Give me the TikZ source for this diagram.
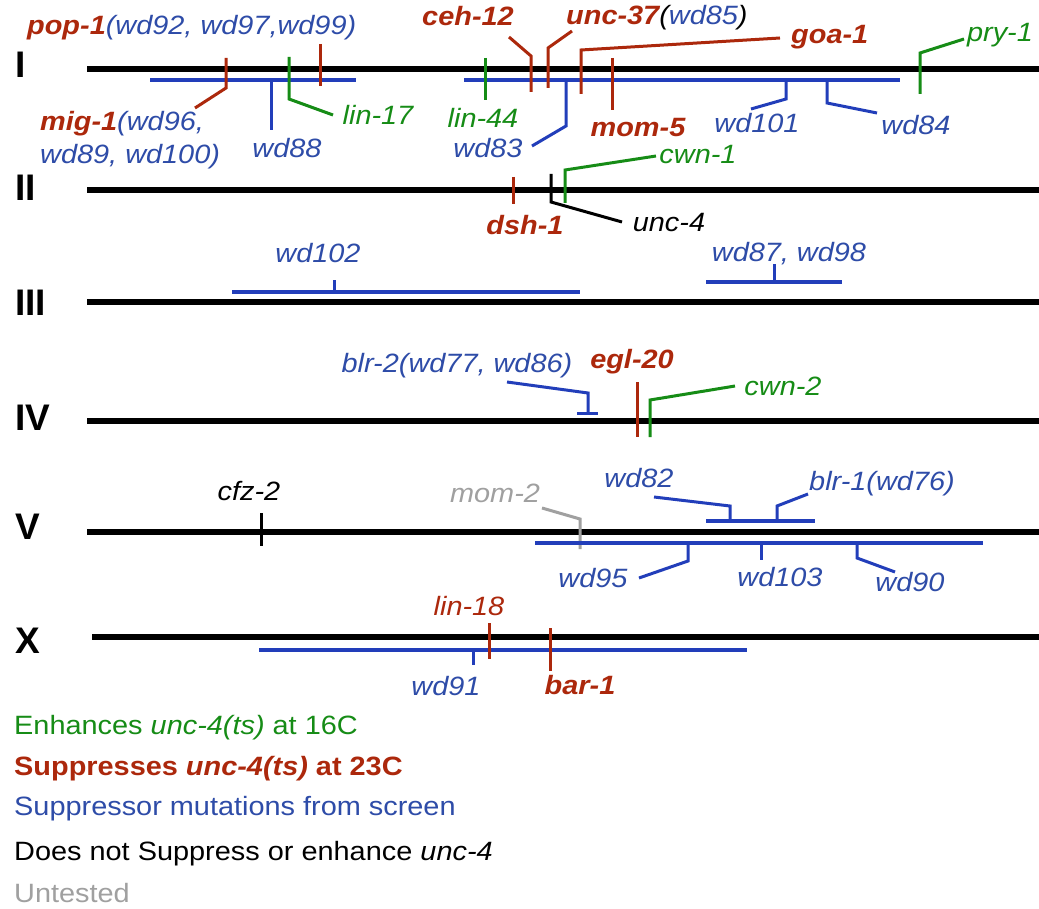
\documentclass[tikz,border=0pt]{standalone}
\usepackage{fontspec}
\setmainfont{Liberation Sans}[FakeStretch=1.09]
\newfontfamily\chromfont{Liberation Sans}
\definecolor{gred}{RGB}{172,40,12}
\definecolor{gblue}{RGB}{34,62,186}
\definecolor{gbluet}{RGB}{46,76,168}
\definecolor{ggreen}{RGB}{22,140,22}
\definecolor{ggray}{RGB}{160,160,160}
\tikzset{
  chrom/.style={line width=5.5pt, black},
  chrlbl/.style={font=\chromfont\fontsize{37}{40}\selectfont\bfseries, inner sep=0pt, anchor=west},
  seg/.style={line width=3.2pt, gblue},
  mark red/.style={line width=3pt, gred},
  mark blue/.style={line width=3pt, gblue},
  mark green/.style={line width=3pt, ggreen},
  mark black/.style={line width=3pt, black},
  mark gray/.style={line width=3pt, ggray},
  lbl/.style={font=\fontsize{26.5}{32}\selectfont\itshape, inner sep=0pt, anchor=base},
  lblw/.style={lbl, anchor=base west},
  rl/.style={lbl, text=gred, font=\fontsize{26.5}{32}\selectfont\bfseries\itshape},
  bl/.style={lbl, text=gbluet},
  gl/.style={lbl, text=ggreen},
  legend/.style={font=\fontsize{26.5}{32}\selectfont, inner sep=0pt, anchor=base west},
}
\begin{document}
\begin{tikzpicture}[x=1pt, y=-1pt, line join=miter]
\useasboundingbox[fill=white] (0,0) rectangle (1039,909);

% chromosome names and axes
\foreach \nm/\yy/\xl/\ly in {I/69/87/65, II/190/87/188, III/302/87/303, IV/421/87/418, V/532/87/527, X/637/92/641}{
  \node[chrlbl] (lab\nm) at (15,\ly) {\nm};
  \coordinate (L\nm) at (\xl,\yy);
  \coordinate (R\nm) at (1039,\yy);
  \draw[chrom] (L\nm) -- (R\nm);
}

% ---------- chromosome I ----------
\draw[seg] (150,80) -- (356,80);
\draw[seg] (464,80) -- (900,80);
\node[lblw] (pop1) at (27,35) {\textcolor{gred}{\bfseries pop-1}\textcolor{gbluet}{(wd92, wd97,wd99)}};
\draw[mark red] (320,44) -- (320,86);
\node[lblw] (mig1a) at (40,131) {\textcolor{gred}{\bfseries mig-1}\textcolor{gbluet}{(wd96,}};
\node[lblw, text=gbluet] (mig1b) at (40,164) {wd89, wd100)};
\draw[mark red] (226,58) -- (226,88) -- (195,108);
\node[bl] (wd88) at (287,158) {wd88};
\draw[mark blue] (271,80) -- (271,130);
\node[gl] (lin17) at (378,125) {lin-17};
\draw[mark green] (289,57) -- (289,99) -- (333,115);
\node[gl] (lin44) at (483,128) {lin-44};
\draw[mark green] (485,58) -- (485,100);
\node[rl] (ceh12) at (468,26) {ceh-12};
\draw[mark red] (509,37) -- (531,56) -- (531,92);
\node[lblw] (unc37) at (566,25) {\textcolor{gred}{\bfseries unc-37}(\textcolor{gbluet}{wd85})};
\draw[mark red] (572,31) -- (548,48) -- (548,88);
\node[rl, anchor=base west] (goa1) at (791,44) {goa-1};
\draw[mark red] (780,38) -- (581,50) -- (581,94);
\node[rl] (mom5) at (638,137) {mom-5};
\draw[mark red] (612,58) -- (612,110);
\node[bl] (wd83) at (488,158) {wd83};
\draw[mark blue] (566,80) -- (566,126) -- (532,146);
\node[bl] (wd101) at (757,133) {wd101};
\draw[mark blue] (786,80) -- (786,99) -- (751,109);
\node[bl] (wd84) at (916,135) {wd84};
\draw[mark blue] (827,80) -- (827,103) -- (877,113);
\node[gl] (pry1) at (1000,42) {pry-1};
\draw[mark green] (920,94) -- (920,53) -- (964,39);

% ---------- chromosome II ----------
\node[rl] (dsh1) at (525,235) {dsh-1};
\draw[mark red] (513,177) -- (513,204);
\node[lbl] (unc4) at (669,232) {unc-4};
\draw[mark black] (551,174) -- (551,202) -- (622,222);
\node[gl] (cwn1) at (698,164) {cwn-1};
\draw[mark green] (565,203) -- (565,170) -- (656,156);

% ---------- chromosome III ----------
\draw[seg] (232,292) -- (580,292);
\draw[mark blue] (334,292) -- (334,280);
\node[bl] (wd102) at (318,263) {wd102};
\draw[seg] (706,282) -- (842,282);
\draw[mark blue] (774,282) -- (774,264);
\node[bl] (wd87) at (789,262) {wd87, wd98};

% ---------- chromosome IV ----------
\node[bl] (blr2) at (457,372) {blr-2(wd77, wd86)};
\draw[mark blue] (507,382) -- (588,393) -- (588,413);
\draw[mark blue] (577,413) -- (598,413);
\node[rl] (egl20) at (632,368) {egl-20};
\draw[mark red] (637,382) -- (637,437);
\node[gl] (cwn2) at (783,395) {cwn-2};
\draw[mark green] (650,437) -- (650,400) -- (735,386);

% ---------- chromosome V ----------
\node[lbl] (cfz2) at (249,500) {cfz-2};
\draw[mark black] (261,513) -- (261,546);
\node[lbl, text=ggray] (mom2) at (495,502) {mom-2};
\draw[mark gray] (542,508) -- (580,519) -- (580,549);
\draw[seg] (706,521) -- (815,521);
\draw[seg] (535,543) -- (983,543);
\node[bl] (wd82) at (639,487) {wd82};
\draw[mark blue] (654,497) -- (730,506) -- (730,521);
\node[bl] (blr1) at (882,490) {blr-1(wd76)};
\draw[mark blue] (777,521) -- (777,506) -- (808,494);
\node[bl] (wd95) at (593,587) {wd95};
\draw[mark blue] (688,543) -- (688,561) -- (639,578);
\node[bl] (wd103) at (780,586) {wd103};
\draw[mark blue] (761,543) -- (761,560);
\node[bl] (wd90) at (910,591) {wd90};
\draw[mark blue] (857,543) -- (857,558) -- (895,572);

% ---------- chromosome X ----------
\draw[seg] (259,650) -- (747,650);
\node[bl] (wd91) at (446,695) {wd91};
\draw[mark blue] (473,650) -- (473,665);
\node[lbl, text=gred] (lin18) at (469,615) {lin-18};
\draw[mark red] (489,623) -- (489,659);
\node[rl] (bar1) at (580,694) {bar-1};
\draw[mark red] (550,628) -- (550,671);

% ---------- key ----------
\node[legend, text=ggreen] (k1) at (14,734) {Enhances \textit{unc-4(ts)} at 16C};
\node[legend, text=gred, font=\fontsize{26.5}{32}\selectfont\bfseries] (k2) at (14,775) {Suppresses \textit{unc-4(ts)} at 23C};
\node[legend, text=gbluet] (k3) at (14,815) {Suppressor mutations from screen};
\node[legend] (k4) at (14,860) {Does not Suppress or enhance \textit{unc-4}};
\node[legend, text=ggray] (k5) at (14,902) {Untested};
\end{tikzpicture}
\end{document}
